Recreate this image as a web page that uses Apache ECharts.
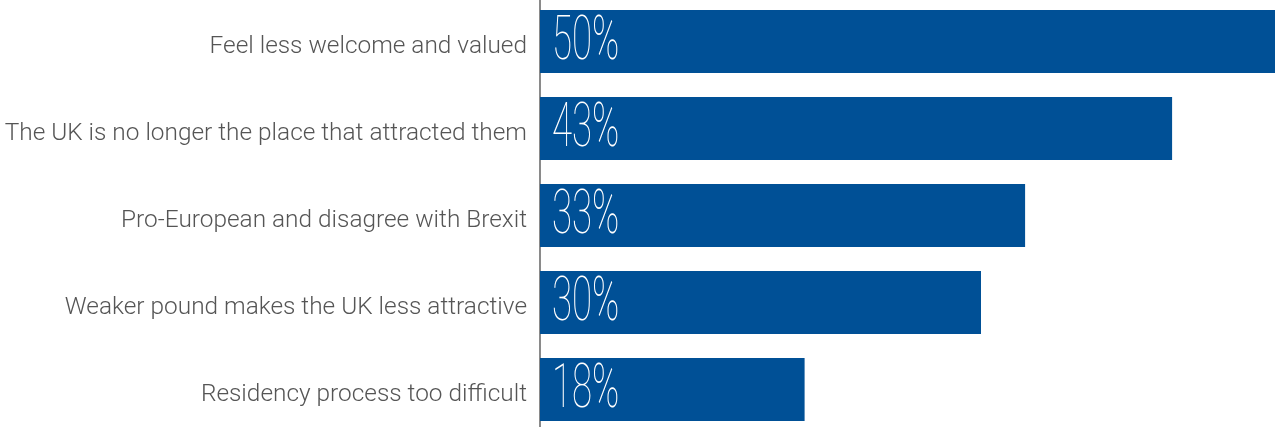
<!DOCTYPE html>
<html>
<head>
<meta charset="utf-8">
<script src="https://cdn.jsdelivr.net/npm/echarts@6/dist/echarts.min.js"></script>
<style>
  html, body { margin: 0; padding: 0; background: #ffffff; }
  #chart { width: 1275px; height: 427px; }
</style>
</head>
<body>
<div id="chart"></div>
<script>
// Reasons for leaving the UK (share of respondents, %)
const reasons = [
  'Feel less welcome and valued',
  'The UK is no longer the place that attracted them',
  'Pro-European and disagree with Brexit',
  'Weaker pound makes the UK less attractive',
  'Residency process too difficult'
];
const shares = [50, 43, 33, 30, 18];

const chart = echarts.init(document.getElementById('chart'));
chart.setOption({
  animation: false,
  grid: {
    left: 540, right: 0, top: -2, height: 435,
    containLabel: false,
    outerBoundsMode: 'none'
  },
  xAxis: {
    type: 'value',
    min: 0,
    max: 50,
    show: false
  },
  yAxis: {
    type: 'category',
    data: reasons,
    inverse: true,
    axisLine: { show: true, lineStyle: { color: '#8a8a8a', width: 2 } },
    axisTick: { show: false },
    axisLabel: {
      margin: 13,
      formatter: function (v) { return '{t|' + v + '}'; },
      rich: {
        t: {
          color: '#555555',
          fontSize: 24.4,
          fontFamily: 'Roboto',
          fontWeight: 300,
          padding: [10, 0, 0, 0]
        }
      }
    }
  },
  series: [
    {
      type: 'bar',
      data: shares,
      barWidth: 63,
      itemStyle: { color: '#005096' }
    },
    {
      // thin, condensed percentage labels at the start of each bar
      type: 'custom',
      data: shares.map((v, i) => [v, i]),
      encode: { x: 0, y: 1 },
      z: 5,
      renderItem: function (params, api) {
        const p = api.coord([0, api.value(1)]);
        return {
          type: 'text',
          x: p[0] + 12,
          y: p[1] + 2,
          scaleX: 0.6,
          style: {
            text: api.value(0) + '%',
            fill: '#ffffff',
            font: '100 61px Roboto',
            verticalAlign: 'middle',
            align: 'left'
          }
        };
      }
    }
  ]
});
</script>
</body>
</html>
